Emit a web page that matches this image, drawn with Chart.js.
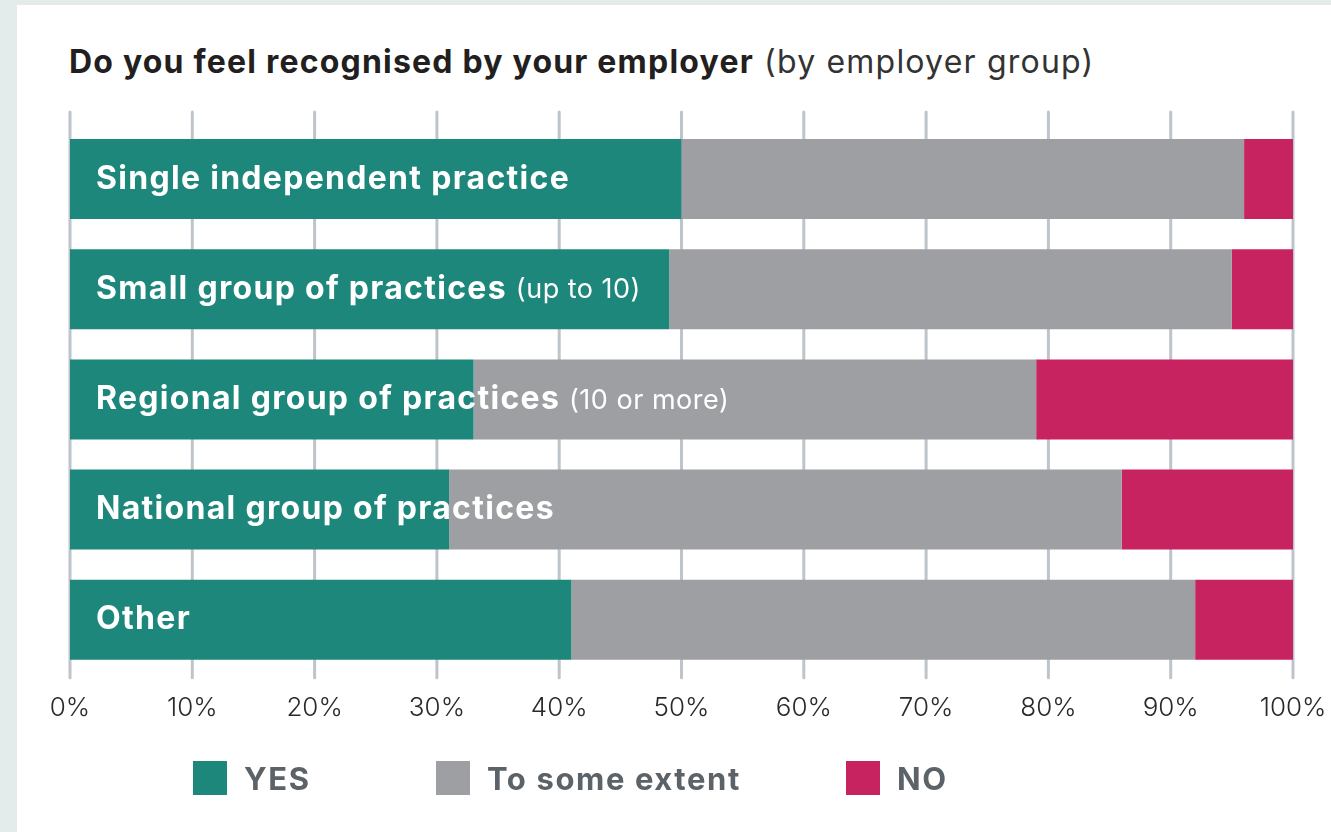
<!DOCTYPE html>
<html>
<head>
<meta charset="utf-8">
<script src="https://cdn.jsdelivr.net/npm/chart.js@4.4.1/dist/chart.umd.min.js"></script>
<style>
	html, body { margin: 0; padding: 0; }
	body { width: 1331px; height: 832px; background: #e3ecea; position: relative; overflow: hidden; font-family: Inter, "Open Sans", sans-serif; }
	#card { position: absolute; left: 17px; top: 5px; right: 0; bottom: 0; background: #fff; }
	#title { position: absolute; left: 69px; top: 46px; font-size: 32px; line-height: 32px; letter-spacing: 1.2px; color: #231f20; white-space: nowrap; }
	#title b { font-weight: 700; }
	#title span { font-weight: 400; color: #333; }
	#chartBox { position: absolute; left: 0; top: 0; }
	.leg { position: absolute; top: 761px; height: 34px; display: flex; align-items: center; }
	.leg i { display: block; width: 34px; height: 34px; margin-right: 17px; }
	.leg span { font-size: 31px; font-weight: 700; letter-spacing: 1.6px; color: #5b6268; white-space: nowrap; }
</style>
</head>
<body>
<div id="card"></div>
<div id="title"><b>Do you feel recognised by your employer</b> <span>(by employer group)</span></div>
<div id="chartBox"><canvas id="myChart" width="1331" height="832"></canvas></div>
<div id="legend"></div>
<script>
// data (percent of respondents)
const categories = ['Single independent practice', 'Small group of practices', 'Regional group of practices', 'National group of practices', 'Other'];
const categoryNotes = ['', '(up to 10)', '(10 or more)', '', ''];
const seriesNames = ['YES', 'To some extent', 'NO'];
const yesValues = [50, 49, 33, 31, 41];
const someValues = [46, 46, 46, 55, 51];
const noValues = [4, 5, 21, 14, 8];
const xTickValues = [0, 10, 20, 30, 40, 50, 60, 70, 80, 90, 100];

const colors = ['#1d877c', '#9e9fa3', '#c72360'];
const legendLeft = [193, 436, 846];

// vertical grid lines, a bit longer than the chart area and with round ends
const gridPlugin = {
	id: 'gridLines',
	beforeDatasetsDraw(chart) {
		const ctx = chart.ctx;
		const area = chart.chartArea;
		const x = chart.scales.x;
		ctx.save();
		ctx.strokeStyle = '#bec4cb';
		ctx.lineWidth = 3;
		ctx.lineCap = 'round';
		x.ticks.forEach(t => {
			const px = x.getPixelForValue(t.value);
			ctx.beginPath();
			ctx.moveTo(px, area.top - 12);
			ctx.lineTo(px, area.bottom + 3);
			ctx.stroke();
		});
		ctx.restore();
	}
};

// category names written inside the bars
const labelPlugin = {
	id: 'barLabels',
	afterDatasetsDraw(chart) {
		const ctx = chart.ctx;
		const meta = chart.getDatasetMeta(0);
		const left = chart.chartArea.left + 26;
		ctx.save();
		ctx.fillStyle = '#fff';
		ctx.textBaseline = 'middle';
		meta.data.forEach((bar, i) => {
			ctx.font = '700 32px Inter, "Open Sans", sans-serif';
			ctx.letterSpacing = '1.3px';
			ctx.fillText(categories[i], left, bar.y);
			if (categoryNotes[i] !== '') {
				const w = ctx.measureText(categories[i] + ' ').width;
				ctx.font = '400 27px Inter, "Open Sans", sans-serif';
				ctx.letterSpacing = '0.5px';
				ctx.fillText(categoryNotes[i], left + w, bar.y + 1);
			}
		});
		ctx.restore();
	}
};

let myChart = new Chart(document.getElementById('myChart'), {
	type: 'bar',
	data: {
		labels: categories,
		datasets: [
			{ label: seriesNames[0], data: yesValues, backgroundColor: colors[0] },
			{ label: seriesNames[1], data: someValues, backgroundColor: colors[1] },
			{ label: seriesNames[2], data: noValues, backgroundColor: colors[2] }
		]
	},
	options: {
		indexAxis: 'y',
		responsive: false,
		animation: false,
		layout: { padding: { left: 70, right: 38, top: 124, bottom: 90 } },
		datasets: { bar: { categoryPercentage: 1, barPercentage: 0.726, borderWidth: 0 } },
		plugins: { legend: { display: false }, tooltip: { enabled: false } },
		scales: {
			x: {
				stacked: true,
				min: 0,
				max: 100,
				afterBuildTicks: (axis) => { axis.ticks = xTickValues.map(v => ({ value: v })); },
				afterFit: (axis) => { axis.paddingLeft = 0; axis.paddingRight = 0; },
				grid: { display: false, drawTicks: false },
				border: { display: false },
				ticks: {
					padding: 18,
					color: '#2a2a2a',
					font: { family: 'Inter', size: 26, weight: 300 },
					callback: (v) => v + '%'
				}
			},
			y: {
				stacked: true,
				display: false
			}
		}
	},
	plugins: [gridPlugin, labelPlugin]
});

// legend laid out under the chart
const legend = document.getElementById('legend');
seriesNames.forEach((name, i) => {
	const d = document.createElement('div');
	d.className = 'leg';
	d.style.left = legendLeft[i] + 'px';
	d.innerHTML = '<i style="background:' + colors[i] + '"></i><span>' + name + '</span>';
	legend.appendChild(d);
});
</script>
</body>
</html>
